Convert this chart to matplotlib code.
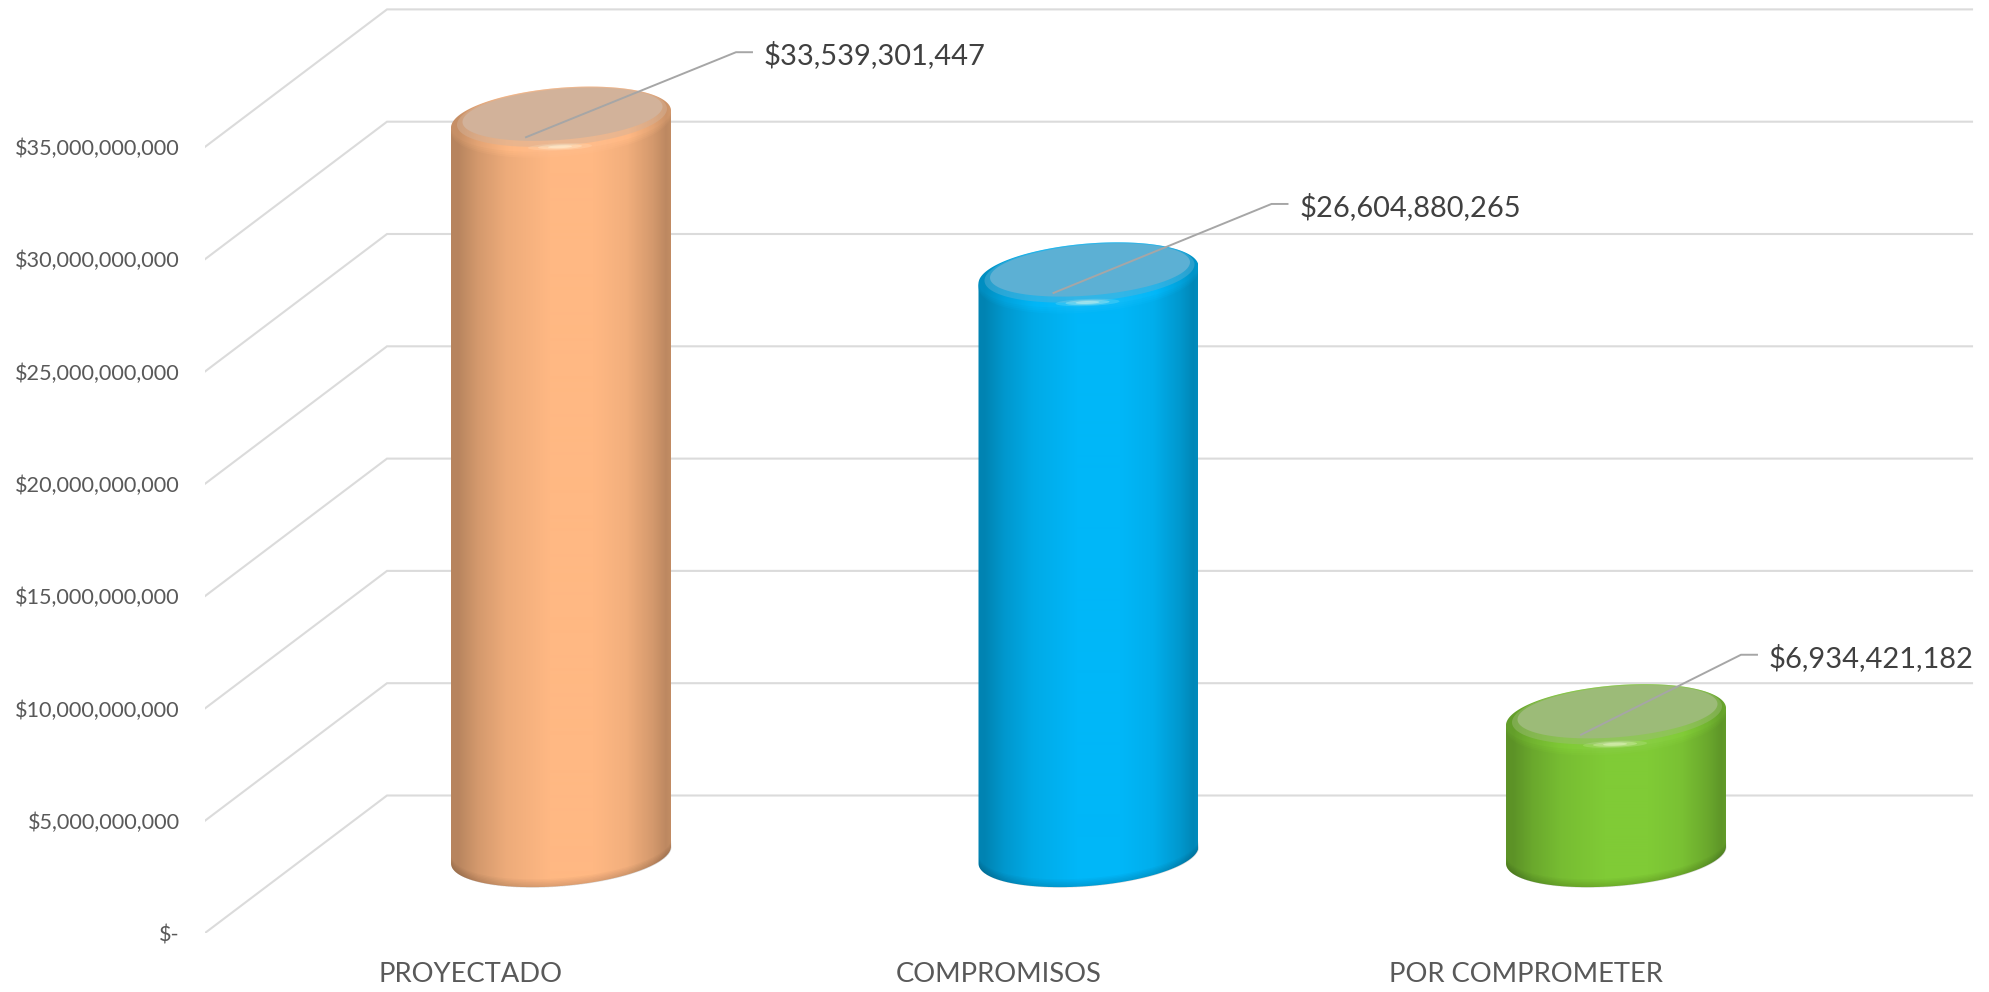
import numpy as np
import matplotlib
matplotlib.use("Agg")
import matplotlib.pyplot as plt
from matplotlib.colors import to_rgb
from matplotlib.patches import PathPatch
from matplotlib.path import Path

categories = ["PROYECTADO", "COMPROMISOS", "POR COMPROMETER"]
values = [33539301447, 26604880265, 6934421182]
bar_colors = ["#FFB883", "#00B7F8", "#80CB36"]
face_colors = ["#D2B29A", "#5CB0D4", "#9CBB78"]
tick_values = [0, 5e9, 10e9, 15e9, 20e9, 25e9, 30e9, 35e9]
tick_labels = ["$-", "$5,000,000,000", "$10,000,000,000", "$15,000,000,000",
               "$20,000,000,000", "$25,000,000,000", "$30,000,000,000", "$35,000,000,000"]

W, H = 1990, 992
LEFT, FLOOR = 205, 933       # front corner of the floor, pixels
CENTER0, STEP = 561, 527.5   # first bar centre and bar spacing, pixels
PX_PER_VAL = 112.3 / 5e9

fig = plt.figure(figsize=(W / 100, H / 100), dpi=100)
plt.rcParams["font.family"] = ["Lato", "DejaVu Sans"]
ax = fig.add_axes([LEFT / W, (H - FLOOR) / H, (W - LEFT) / W, FLOOR / H])
ax.set_xlim((LEFT - CENTER0) / STEP, (W - CENTER0) / STEP)
ax.set_ylim(0, FLOOR / PX_PER_VAL)


def dx(px):
    return px / STEP


def dy(px):
    return px / PX_PER_VAL


# walls: slanted side wall, then the lines along the back
x_left = ax.get_xlim()[0]
x_back = x_left + dx(182)
x_end = x_left + dx(1767)
for v in tick_values:
    ax.plot([x_left, x_back, x_end], [v, v + dy(137.5), v + dy(137.5)],
            color="#DBDBDB", lw=1.5, zorder=1, solid_joinstyle="miter")


def ellipse(cx, cy, a, b, tilt=8.5, n=200, t0=0, t1=2 * np.pi):
    t = np.linspace(t0, t1, n)
    xs = cx + dx(a) * np.cos(t)
    ys = cy + dy(b) * np.sin(t) + dy(tilt) * (a / 110) * np.cos(t)
    return xs, ys


def shade(base, factors):
    base = np.array(to_rgb(base))
    rows = []
    for f in factors:
        if f > 1:
            rows.append(base + (1 - base) * (f - 1))
        else:
            rows.append(base * f)
    return np.array(rows)[None, :, :]


side_f = np.interp(np.linspace(0, 1, 220),
                   [0, 0.03, 0.12, 0.25, 0.45, 0.65, 0.8, 0.92, 0.98, 1],
                   [0.72, 0.72, 0.83, 0.93, 1, 1, 0.95, 0.83, 0.74, 0.76])
rim_f = np.clip(side_f + 0.06, 0, 1.1)

base_val = dy(78)        # bottom centre of every cylinder
top_off = dy(57)         # top centre sits this far above the value
a = 110
for i, (v, col, fc) in enumerate(zip(values, bar_colors, face_colors)):
    top = v + top_off
    # body outline
    xb, yb = ellipse(i, base_val, a, 31, t0=np.pi, t1=2 * np.pi)
    xt, yt = ellipse(i, top, a, 33, t0=0, t1=np.pi)
    pts = np.column_stack([np.r_[xb, xt], np.r_[yb, yt]])
    body = PathPatch(Path(np.vstack([pts, pts[0]]), closed=True), fc="none", ec="none")
    ax.add_patch(body)
    ext = (i - dx(a), i + dx(a), base_val - dy(40), top + dy(40))
    im = ax.imshow(shade(col, side_f), extent=ext, aspect="auto", zorder=3,
                   interpolation="bilinear")
    im.set_clip_path(body)

    # dark band along the bottom edge, soft towards the body
    for k in range(7):
        xs, ys = ellipse(i, base_val + dy(k * 1.4), a, 31, t0=np.pi, t1=2 * np.pi)
        ax.fill_between(xs, yb, ys, color="#000000", alpha=0.025, lw=0, zorder=3.2)

    # rounded rim round the top, several layers so that its lower edge fades out
    for k, al in enumerate([0.3, 0.4, 0.5, 1.0]):
        xr, yr = ellipse(i, top + dy(1.5 * k - 1), a, 33 - k * 0.5)
        rim = PathPatch(Path(np.column_stack([xr, yr]), closed=True), fc="none", ec="none")
        ax.add_patch(rim)
        im2 = ax.imshow(shade(col, rim_f), extent=ext, aspect="auto", zorder=3.4 + k * 0.01,
                        interpolation="bilinear", alpha=al)
        im2.set_clip_path(rim)

    # flat top face with a soft edge
    xf, yf = ellipse(i + dx(1), top + dy(6), 105, 29)
    ax.fill(xf, yf, color=fc, alpha=0.45, lw=0, zorder=3.6)
    xf, yf = ellipse(i + dx(1.5), top + dy(8.5), 100, 25.5)
    ax.fill(xf, yf, color=fc, lw=0, zorder=3.62)

    # small shine on the front of the rim
    for w, h, al in [(32, 3.5, 0.14), (22, 2.5, 0.25), (12, 1.5, 0.35)]:
        xh, yh = ellipse(i - dx(1), top - dy(24), w, h, tilt=4)
        ax.fill(xh, yh, color="#FFFFE8", alpha=al, lw=0, zorder=3.8)

ax.set_xlim((LEFT - CENTER0) / STEP, (W - CENTER0) / STEP)
ax.set_ylim(0, FLOOR / PX_PER_VAL)

# leader lines and value labels, offsets in pixels from the top of the bar
leader_dx = [210, 218, 160]
leader_dy = [85, 89, 80]
for i, v in enumerate(values):
    x0 = i - dx(35)
    y0 = v + top_off - dy(14.5)
    x1 = x0 + dx(leader_dx[i])
    y1 = y0 + dy(leader_dy[i])
    x2 = x1 + dx(16)
    ax.plot([x0, x1, x2], [y0, y1, y1], color="#A6A6A6", lw=1.4, zorder=5,
            solid_joinstyle="miter")
    ax.text(x2 + dx(12), y1 - dy(3), f"${v:,.0f}", fontsize=20.9, color="#404040",
            va="center", ha="left", zorder=6)

# category labels sit on the front edge of the floor, left of the bars
ax.set_xticks([i - dx(90) for i in range(len(categories))])
ax.set_xticklabels(categories, fontsize=19.7, color="#595959")
ax.set_yticks(tick_values)
ax.set_yticklabels(tick_labels, fontsize=15.6, color="#595959")
ax.tick_params(axis="x", length=0, pad=21)
ax.tick_params(axis="y", length=0, pad=18)
for s in ax.spines.values():
    s.set_visible(False)
ax.patch.set_visible(False)

fig.savefig("out.png", dpi=100)
